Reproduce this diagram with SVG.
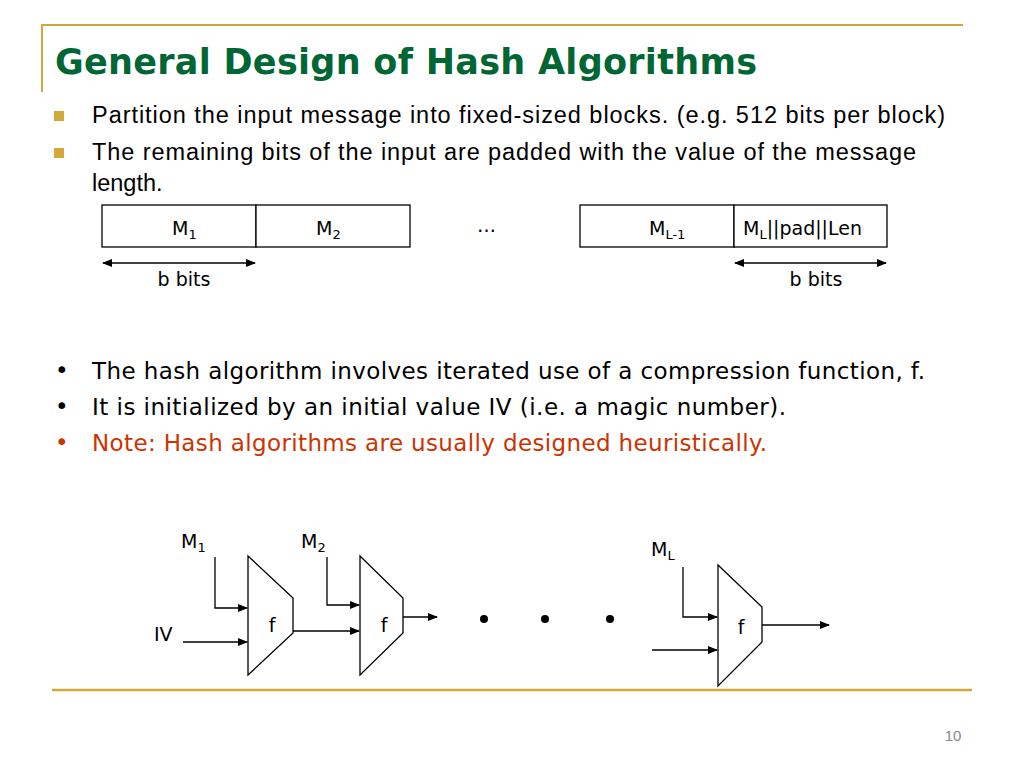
<svg xmlns="http://www.w3.org/2000/svg" width="1024" height="768" viewBox="0 0 1024 768">
<defs>
<marker id="ah" markerWidth="10" markerHeight="8" refX="9" refY="4" orient="auto" markerUnits="userSpaceOnUse"><path d="M0,0 L10,4 L0,8 z" fill="#000"/></marker>
<marker id="as" markerWidth="10" markerHeight="8" refX="1" refY="4" orient="auto" markerUnits="userSpaceOnUse"><path d="M10,0 L0,4 L10,8 z" fill="#000"/></marker>
</defs>
<style>
.b{font-family:"Liberation Sans",Arial,sans-serif;font-size:23.5px;fill:#000}
.c{font-family:"DejaVu Sans",sans-serif;font-size:23px;fill:#000}
.s{font-family:"DejaVu Sans",sans-serif;font-size:19px;fill:#000}
.ln{stroke:#000;stroke-width:1.3;fill:none}
.box{fill:#fff;stroke:#000;stroke-width:1.3}
</style>
<rect width="1024" height="768" fill="#fff"/>
<path d="M42,92 V25 H963" stroke="#d4a838" stroke-width="2" fill="none"/>
<line x1="52" y1="690" x2="972" y2="690" stroke="#d4a838" stroke-width="2.5"/>
<text x="55" y="74" font-family="DejaVu Sans,sans-serif" font-weight="bold" font-size="35" fill="#006633" textLength="702">General Design of Hash Algorithms</text>
<rect x="54" y="111" width="10" height="10" fill="#d4a838"/>
<rect x="54" y="148" width="10" height="10" fill="#d4a838"/>
<text class="b" x="92" y="123" textLength="853">Partition the input message into fixed-sized blocks.  (e.g. 512 bits per block)</text>
<text class="b" x="92" y="160" textLength="824">The remaining bits of the input are padded with the value of the message</text>
<text class="b" x="92" y="191">length.</text>
<g id="blocks">
<rect class="box" x="102" y="205" width="154" height="42"/>
<rect class="box" x="256" y="205" width="154" height="42"/>
<rect class="box" x="580" y="205" width="154" height="42"/>
<rect class="box" x="734" y="205" width="153" height="42"/>
<text class="s" x="172" y="235">M<tspan font-size="13" dy="4">1</tspan></text>
<text class="s" x="316" y="235">M<tspan font-size="13" dy="4">2</tspan></text>
<text class="s" x="477" y="232">…</text>
<text class="s" x="649" y="235">M<tspan font-size="13" dy="4">L-1</tspan></text>
<text class="s" x="743" y="235">M<tspan font-size="13" dy="4">L</tspan><tspan dy="-4">||pad||Len</tspan></text>
</g>
<g id="bbits">
<line class="ln" x1="103" y1="263" x2="255" y2="263" marker-start="url(#as)" marker-end="url(#ah)"/>
<line class="ln" x1="735" y1="263" x2="886" y2="263" marker-start="url(#as)" marker-end="url(#ah)"/>
<text class="s" x="184" y="286" text-anchor="middle">b bits</text>
<text class="s" x="816" y="286" text-anchor="middle">b bits</text>
</g>
<text class="c" x="55" y="378" font-size="16">•</text>
<text class="c" x="55" y="414" font-size="16">•</text>
<text class="c" x="55" y="450" font-size="16" style="fill:#cc3300">•</text>
<text class="c" x="92" y="379" textLength="833">The hash algorithm involves iterated use of a compression function, f.</text>
<text class="c" x="92" y="415" textLength="694">It is initialized by an initial value IV  (i.e. a magic number).</text>
<text class="c" x="92" y="451" style="fill:#cc3300" textLength="675">Note: Hash algorithms are usually designed heuristically.</text>
<g id="f1"><path class="box" d="M248,556 L293,598 L293,633 L248,675 Z"/><text class="s" x="272" y="632" text-anchor="middle">f</text></g>
<g id="f2"><path class="box" d="M360,556 L403,598 L403,633 L360,675 Z"/><text class="s" x="384" y="632" text-anchor="middle">f</text></g>
<g id="f3"><path class="box" d="M718,565 L762,607 L762,642 L718,686 Z"/><text class="s" x="741" y="634" text-anchor="middle">f</text></g>
<text class="s" x="181" y="548">M<tspan font-size="13" dy="4">1</tspan></text>
<text class="s" x="301" y="548">M<tspan font-size="13" dy="4">2</tspan></text>
<text class="s" x="651" y="556">M<tspan font-size="13" dy="4">L</tspan></text>
<text class="s" x="154" y="641">IV</text>
<g id="connectors">
<path class="ln" d="M215,557 V608 H247" marker-end="url(#ah)"/>
<path class="ln" d="M183,642 H247" marker-end="url(#ah)"/>
<path class="ln" d="M293,631 H359" marker-end="url(#ah)"/>
<path class="ln" d="M327,557 V605 H359" marker-end="url(#ah)"/>
<path class="ln" d="M403,617 H437" marker-end="url(#ah)"/>
<path class="ln" d="M683,567 V617 H717" marker-end="url(#ah)"/>
<path class="ln" d="M652,650 H717" marker-end="url(#ah)"/>
<path class="ln" d="M762,625 H829" marker-end="url(#ah)"/>
</g>
<circle cx="484" cy="619" r="4"/><circle cx="545" cy="619" r="4"/><circle cx="610" cy="619" r="4"/>
<text x="953" y="741" font-family="Liberation Sans,sans-serif" font-size="15" fill="#888" text-anchor="middle">10</text>
</svg>
